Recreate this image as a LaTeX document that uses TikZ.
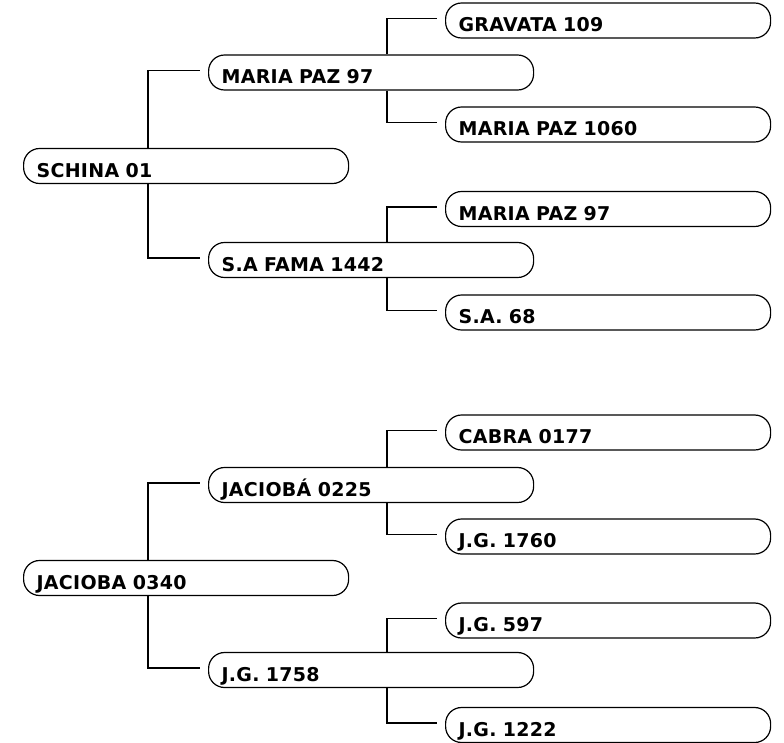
\documentclass[tikz,border=0pt]{standalone}
\usepackage{fontspec}
\usepackage{tikz}
\usetikzlibrary{positioning, calc}
\newfontfamily\boxfont{DejaVu Sans}[LetterSpace=1.5]

\tikzset{
    treebox/.style={draw, line width=1.2pt, rounded corners=16pt, anchor=west,
        text width=299pt, inner xsep=13pt, inner ysep=2.5pt,
        text height=26pt, text depth=4pt, align=left,
        font=\boxfont\bfseries\fontsize{19}{21}\selectfont},
    link/.style={draw, line width=1.2pt, shorten >=8pt}
}

\begin{document}
\begin{tikzpicture}[x=1pt, y=-1pt]
    \useasboundingbox (0,0) rectangle (784,742);

    % First tree
    \node[treebox] (schina) at (23,166) {SCHINA 01};
    \node[treebox] (mariapaz) at (208,72.5) {MARIA PAZ 97};
    \node[treebox] (safama) at (208,260) {S.A FAMA 1442};
    \node[treebox] (gravata) at (445,20.5) {GRAVATA 109};
    \node[treebox] (mariapazb) at (445,124.5) {MARIA PAZ 1060};
    \node[treebox] (mariapazc) at (445,209) {MARIA PAZ 97};
    \node[treebox] (sa) at (445,312.5) {S.A. 68};

    \draw[link] (schina.north west) ++(125,0) |- ([yshift=2pt]mariapaz.west);
    \draw[link] (schina.south west) ++(125,0) |- ([yshift=2pt]safama.west);
    \draw[link] (mariapaz.north west) ++(179,0) |- ([yshift=2pt]gravata.west);
    \draw[link] (mariapaz.south west) ++(179,0) |- ([yshift=2pt]mariapazb.west);
    \draw[link] (safama.north west) ++(179,0) |- ([yshift=2pt]mariapazc.west);
    \draw[link] (safama.south west) ++(179,0) |- ([yshift=2pt]sa.west);

    % Second tree
    \node[treebox] (jacioba) at (23,578) {JACIOBA 0340};
    \node[treebox] (jaciobab) at (208,485) {JACIOBÁ 0225};
    \node[treebox] (jga) at (208,670) {J.G. 1758};
    \node[treebox] (cabra) at (445,432.5) {CABRA 0177};
    \node[treebox] (jgb) at (445,536.5) {J.G. 1760};
    \node[treebox] (jgc) at (445,620.5) {J.G. 597};
    \node[treebox] (jgd) at (445,725) {J.G. 1222};

    \draw[link] (jacioba.north west) ++(125,0) |- ([yshift=2pt]jaciobab.west);
    \draw[link] (jacioba.south west) ++(125,0) |- ([yshift=2pt]jga.west);
    \draw[link] (jaciobab.north west) ++(179,0) |- ([yshift=2pt]cabra.west);
    \draw[link] (jaciobab.south west) ++(179,0) |- ([yshift=2pt]jgb.west);
    \draw[link] (jga.north west) ++(179,0) |- ([yshift=2pt]jgc.west);
    \draw[link] (jga.south west) ++(179,0) |- ([yshift=2pt]jgd.west);
\end{tikzpicture}
\end{document}
